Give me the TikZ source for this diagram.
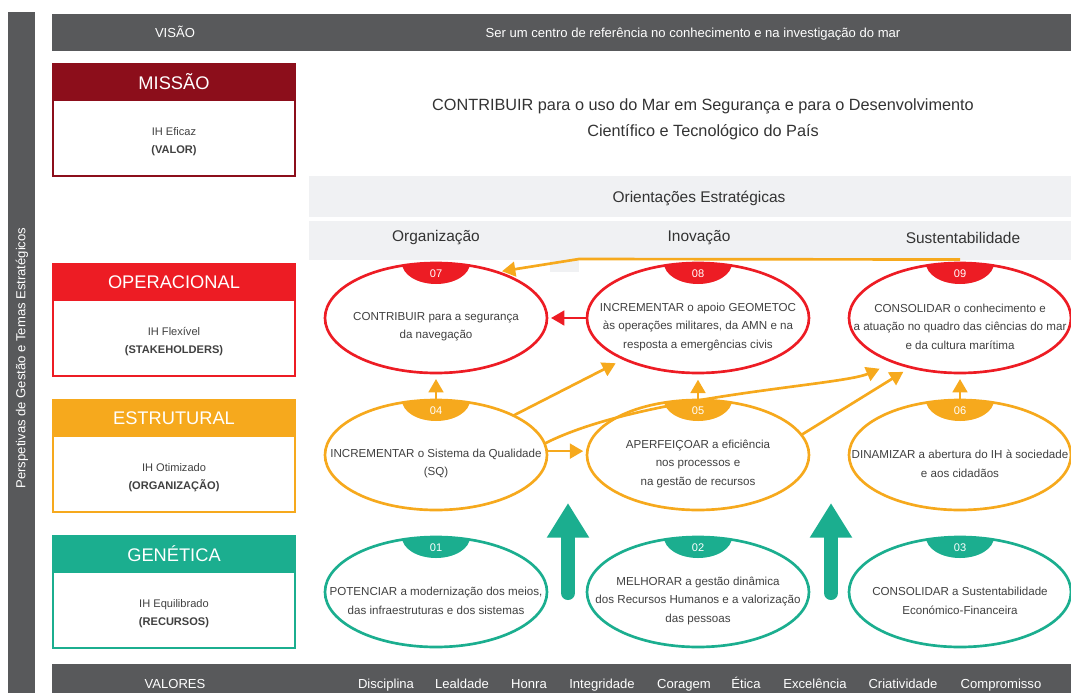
\documentclass[tikz,border=0pt]{standalone}
\usepackage{fontspec}
\setmainfont{Liberation Sans}
\usetikzlibrary{shapes.geometric,arrows.meta,positioning}

\begin{document}
\begin{tikzpicture}[x=0.75pt,y=-0.75pt,
    headbox/.style={draw=#1,fill=#1,line width=1.5pt,minimum width=181.5pt,minimum height=27.5pt,
        inner sep=0pt,outer sep=0pt,text=white,font=\fontsize{13.7}{16}\selectfont},
    bodybox/.style={draw=#1,line width=1.5pt,minimum width=181.5pt,minimum height=56.5pt,inner sep=0pt,
        outer sep=0pt},
    bodytext/.style={align=center,text=txtgray,font=\fontsize{8.3}{13.5}\selectfont},
    goal/.style={ellipse,draw=#1,line width=2pt,minimum width=166.5pt,minimum height=82.5pt,
        inner sep=0pt,outer sep=0pt},
    goaltext/.style={align=center,text=txtgray,font=\fontsize{8.7}{13.9}\selectfont},
    num/.style={text=white,font=\fontsize{8.3}{10}\selectfont},
    flow/.style={draw=#1,line width=2pt,-{Triangle[width=11pt,length=10pt]}},
    bigup/.style={draw=iteal,line width=10.5pt,line cap=round,-{Triangle[width=30pt,length=26pt]}},
    bartext/.style={text=white,font=\fontsize{9.8}{12}\selectfont},
    valtext/.style={bartext,anchor=base},
    headtext/.style={text=darktxt,font=\fontsize{11.6}{14}\selectfont}]
    %colores
    \definecolor{bar}{HTML}{58595B}
    \definecolor{band}{HTML}{F0F1F3}
    \definecolor{idarkred}{HTML}{8C0E1B}
    \definecolor{ired}{HTML}{ED1C24}
    \definecolor{iorange}{HTML}{F6A91D}
    \definecolor{iteal}{HTML}{1BAE8F}
    \definecolor{txtgray}{HTML}{404040}
    \definecolor{darktxt}{HTML}{333333}

    \useasboundingbox (0,0) rectangle (1071,693);

    % Barra lateral
    \fill[bar] (8,12) rectangle (35,693);
    \node[bartext,rotate=90] (perspetivas) at (22,358) {Perspetivas de Gestão e Temas Estratégicos};

    % Visao
    \fill[bar] (52,14) rectangle (1071,51);
    \node[valtext] (visao) at (175,37.5) {VISÃO};
    \node[valtext] (visaotxt) at (693,37.5) {Ser um centro de referência no conhecimento e na investigação do mar};

    % Missao (texto)
    \node[align=center,text=darktxt,font=\fontsize{12.2}{19.5}\selectfont] (missaotxt) at (703,119)
        {CONTRIBUIR para o uso do Mar em Segurança e para o Desenvolvimento\\Científico e Tecnológico do País};

    % Orientacoes estrategicas
    \fill[band] (309,176) rectangle (1071,217);
    \fill[band] (309,221) rectangle (1071,260);
    \fill[band] (550,259) rectangle (579,272);
    \node[headtext] (orientacoes) at (699,198) {Orientações Estratégicas};
    \node[headtext] (organizacao) at (436,238) {Organização};
    \node[headtext] (inovacao) at (699,238) {Inovação};
    \node[headtext] (sustentabilidade) at (963,238) {Sustentabilidade};

    % Perspetivas
    \foreach \nm/\y/\col/\head/\sub/\key in {missao/82/idarkred/MISSÃO/IH Eficaz/VALOR,
        operacional/282/ired/OPERACIONAL/IH Flexível/STAKEHOLDERS,
        estrutural/418/iorange/ESTRUTURAL/IH Otimizado/ORGANIZAÇÃO,
        genetica/554/iteal/GENÉTICA/IH Equilibrado/RECURSOS}
    {
        \node[headbox=\col] (h\nm) at (174,\y) {\head};
        \node[bodybox=\col,below=0pt of h\nm] (b\nm) {};
        \node[bodytext] (t\nm) at ([yshift=-2.5pt]b\nm.center) {\sub\\\textbf{(\key)}};
    }

    % Objetivos
    \foreach \n/\x/\y/\col/\txt in {07/436/318/ired/{CONTRIBUIR para a segurança\\da navegação},
        08/698/318/ired/{INCREMENTAR o apoio GEOMETOC\\às operações militares, da AMN e na\\resposta a emergências civis},
        09/960/318/ired/{CONSOLIDAR o conhecimento e\\a atuação no quadro das ciências do mar\\e da cultura marítima},
        04/436/455/iorange/{INCREMENTAR o Sistema da Qualidade\\(SQ)},
        05/698/455/iorange/{APERFEIÇOAR a eficiência\\nos processos e\\na gestão de recursos},
        06/960/455/iorange/{DINAMIZAR a abertura do IH à sociedade\\e aos cidadãos},
        01/436/592/iteal/{POTENCIAR a modernização dos meios,\\das infraestruturas e dos sistemas},
        02/698/592/iteal/{MELHORAR a gestão dinâmica\\dos Recursos Humanos e a valorização\\das pessoas},
        03/960/592/iteal/{CONSOLIDAR a Sustentabilidade\\Económico-Financeira}}
    {
        \node[goal=\col] (g\n) at (\x,\y) {};
        \begin{scope}
            \clip (g\n.center) ellipse (111 and 55);
            \fill[\col] (g\n.north) ellipse (34 and 21);
        \end{scope}
        \node[num] at ([yshift=-8pt]g\n.north) {\n};
        \node[goaltext] at ([yshift=-6.5pt]g\n.center) {\txt};
    }

    % Ligacoes
    \coordinate (bend) at (579,259);
    \draw[flow=iorange,shorten >=3.8pt] ([yshift=2.6pt]g09.north) -- (bend) -- (g07.37);
    \draw[flow=ired,shorten >=3pt] (g08.west) -- (g07.east);
    \draw[flow=iorange,shorten >=4.5pt] (g04.north) -- (g07.south);
    \draw[flow=iorange,shorten >=5pt] (g05.north) -- (g08.south);
    \draw[flow=iorange,shorten >=4.5pt] (g06.north) -- (g09.south);
    \draw[flow=iorange,shorten >=7pt] (g04.27) -- (g08.209);
    \draw[flow=iorange,shorten >=3pt] (g04.2) -- (g05.178);
    \draw[flow=iorange,shorten >=12pt] (g04.6) .. controls (640,395) and (840,386) .. (g09.214);
    \draw[flow=iorange,shorten >=6.5pt] (g05.11) -- (g09.225);

    % Setas grandes
    \draw[bigup] (568,593) -- (568,503);
    \draw[bigup] (831,593) -- (831,503);

    % Valores
    \fill[bar] (52,664) rectangle (1071,693);
    \node[valtext] (valores) at (175,688.5) {VALORES};
    \foreach \v/\x [count=\i] in {Disciplina/386,Lealdade/462,Honra/529,Integridade/602,Coragem/684,
        Ética/746,Excelência/815,Criatividade/903,Compromisso/1001}
        \node[valtext] (valor\i) at (\x,688.5) {\v};
\end{tikzpicture}
\end{document}
